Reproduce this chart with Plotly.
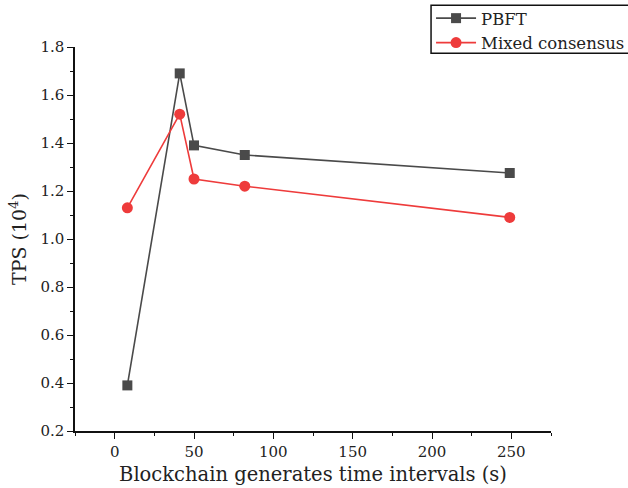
import plotly.graph_objects as go

x_vals = [8, 41, 50, 82, 249]
pbft = [0.39, 1.69, 1.39, 1.35, 1.275]
mixed = [1.13, 1.52, 1.25, 1.22, 1.09]
x_ticks = [0, 50, 100, 150, 200, 250]
y_ticks = [0.2, 0.4, 0.6, 0.8, 1.0, 1.2, 1.4, 1.6, 1.8]

FONT = "DejaVu Serif, Liberation Serif, serif"

fig = go.Figure()
fig.add_trace(go.Scatter(x=x_vals, y=pbft, mode="lines+markers", name="PBFT",
                         line=dict(color="#4a4a4a", width=1.6),
                         marker=dict(symbol="square", size=10, color="#4a4a4a")))
fig.add_trace(go.Scatter(x=x_vals, y=mixed, mode="lines+markers", name="Mixed consensus",
                         line=dict(color="#ee3b3b", width=1.6),
                         marker=dict(symbol="circle", size=11, color="#ee3b3b")))

# legend frame (drawn as a shape so the entries can sit tight inside it)
fig.add_shape(type="rect", xref="paper", yref="paper", x0=0.748, x1=1.25, y0=0.984, y1=1.109,
              line=dict(color="#111", width=1.5), fillcolor="rgba(0,0,0,0)", layer="above")

fig.update_layout(
    width=628, height=488,
    margin=dict(l=75, r=77, t=47, b=57, autoexpand=False),
    paper_bgcolor="white", plot_bgcolor="white",
    font=dict(family=FONT, color="#222", size=15),
    showlegend=True,
    legend=dict(x=0.748, y=1.12, xanchor="left", yanchor="top",
                borderwidth=0, bgcolor="rgba(0,0,0,0)",
                font=dict(family=FONT, size=16.5, color="#222"),
                tracegroupgap=0, itemwidth=40),
    xaxis=dict(range=[-25, 275], tickvals=x_ticks, ticks="outside", ticklen=6, tickwidth=1.2,
               tickcolor="#111", showline=True, linecolor="#111", linewidth=1.5,
               showgrid=False, zeroline=False, tickfont=dict(size=15),
               minor=dict(dtick=25, tick0=0, ticks="outside", ticklen=3, tickcolor="#111", showgrid=False),
               title=dict(text="Blockchain generates time intervals (s)", font=dict(size=19.5), standoff=8)),
    yaxis=dict(range=[0.2, 1.8], tickvals=y_ticks, tickformat=".1f", ticks="outside", ticklen=6,
               tickwidth=1.2, tickcolor="#111", showline=True, linecolor="#111", linewidth=1.5,
               showgrid=False, zeroline=False, tickfont=dict(size=15),
               minor=dict(dtick=0.1, tick0=0.2, ticks="outside", ticklen=3, tickcolor="#111", showgrid=False),
               title=dict(text="TPS (10<sup>4</sup>)", font=dict(size=19), standoff=9)),
)

fig.write_html("out.html", config={"displayModeBar": False},
               post_script="document.body.style.margin='0';")
